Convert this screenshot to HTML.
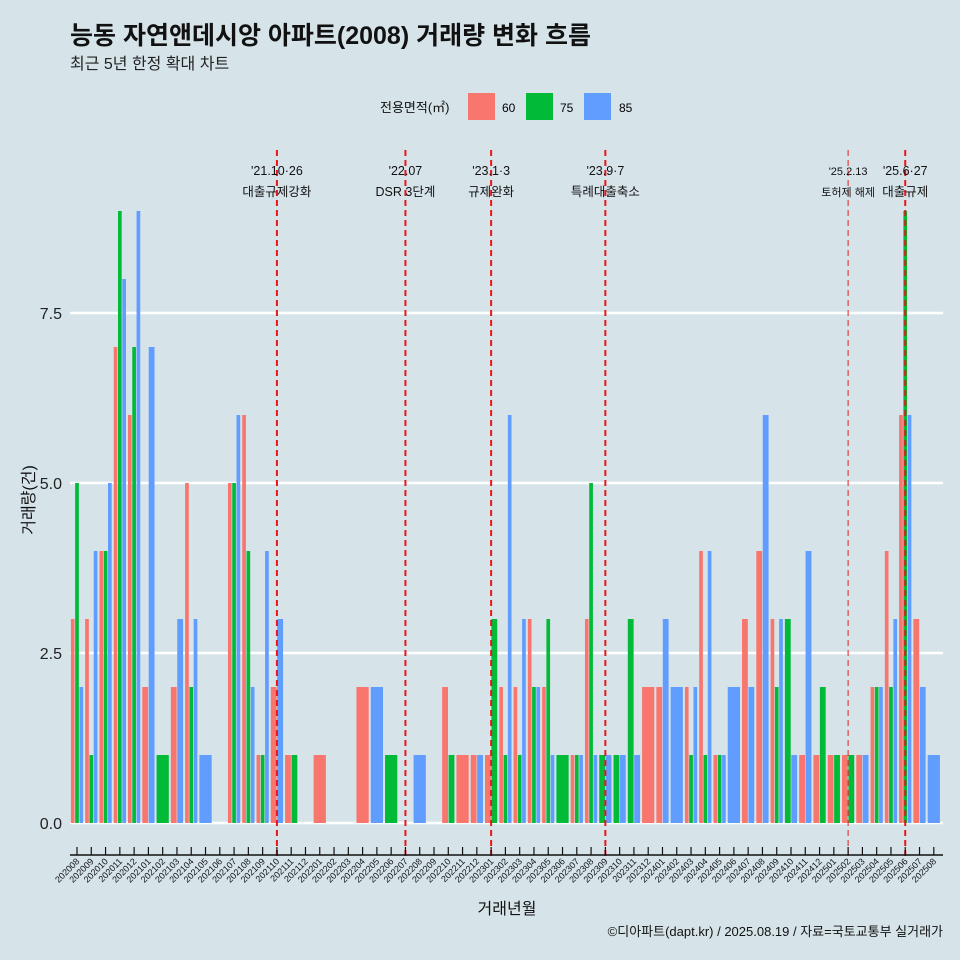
<!DOCTYPE html>
<html><head><meta charset="utf-8"><style>
body{margin:0;background:#d6e4ea;}
svg{display:block;font-family:"Liberation Sans","Noto Sans CJK KR",sans-serif;}
</style></head><body>
<svg id="chart" width="960" height="960" viewBox="0 0 960 960">
<rect width="960" height="960" fill="#d6e4ea"/>
<text x="70" y="44" font-size="25" font-weight="bold" fill="#111">능동 자연앤데시앙 아파트(2008) 거래량 변화 흐름</text>
<text x="70" y="69" font-size="16" fill="#222">최근 5년 한정 확대 차트</text>
<g>
<text x="380" y="112" font-size="13" fill="#111">전용면적(㎡)</text>
<rect x="468" y="93" width="27" height="27" fill="#F8766D"/>
<text x="502" y="112" font-size="12">60</text>
<rect x="526" y="93" width="27" height="27" fill="#00BA38"/>
<text x="560" y="112" font-size="12">75</text>
<rect x="584" y="93" width="27" height="27" fill="#619CFF"/>
<text x="619" y="112" font-size="12">85</text>
</g>
<g id="grid"></g><g id="bars"></g><g id="events"></g><g id="axes"></g>
<text transform="translate(34,500) rotate(-90)" text-anchor="middle" font-size="16" fill="#111">거래량(건)</text>
<text x="507" y="914" text-anchor="middle" font-size="16" fill="#111">거래년월</text>
<text x="943" y="936" text-anchor="end" font-size="13" fill="#111">©디아파트(dapt.kr) / 2025.08.19 / 자료=국토교통부 실거래가</text>
</svg>
<script>
const months=[];for(let y=2020;y<=2025;y++)for(let m=1;m<=12;m++){const k=y*100+m;if(k>=202008&&k<=202508)months.push(String(k));}
const s60=[3,3,4,7,6,2,0,2,5,0,0,5,6,1,2,1,0,1,0,0,2,0,0,0,0,0,2,1,1,1,2,2,3,2,0,1,3,0,0,0,2,2,0,2,4,1,0,3,4,3,0,1,1,1,1,1,2,4,6,3,0];
const s75=[5,1,4,9,7,0,1,0,2,0,0,5,4,1,0,1,0,0,0,0,0,0,1,0,0,0,1,0,0,3,1,1,2,3,1,1,5,1,1,3,0,0,0,1,1,1,0,0,0,2,3,0,2,1,1,0,2,2,9,0,0];
const s85=[2,4,5,8,9,7,0,3,3,1,0,6,2,4,3,0,0,0,0,0,0,2,0,0,1,0,0,0,1,0,6,3,2,1,0,1,1,1,1,1,0,3,2,2,4,1,2,2,6,3,1,4,0,0,0,1,2,3,6,2,1];
const yTicks=[0,2.5,5,7.5];
const yTickLabels=["0.0","2.5","5.0","7.5"];
const eventMonths=["202110","202207","202301","202309","202502","202506"];
const eventLine1=["'21.10·26","'22.07","'23.1·3","'23.9·7","'25.2.13","'25.6·27"];
const eventLine2=["대출규제강화","DSR 3단계","규제완화","특례대출축소","토허제 해제","대출규제"];
const NS="http://www.w3.org/2000/svg";
const X0=77,STEP=14.28,Y0=823,PY=68;
const xS=i=>X0+i*STEP, yS=v=>Y0-v*PY;
function mk(t,a,p){const e=document.createElementNS(NS,t);for(const k in a)e.setAttribute(k,a[k]);p.appendChild(e);return e;}
const grid=document.getElementById('grid'),bars=document.getElementById('bars'),ev=document.getElementById('events'),ax=document.getElementById('axes');
yTicks.forEach((v,i)=>{
 const l=mk('line',{x1:70,x2:943,y1:yS(v),y2:yS(v),stroke:'#fff','stroke-width':2.5},grid);
 
 
 const t=mk('text',{x:62,y:yS(v)+6,'text-anchor':'end','font-size':16,fill:'#222'},grid);t.textContent=yTickLabels[i];
 
 
});
const series=[[s60,'#F8766D','60'],[s75,'#00BA38','75'],[s85,'#619CFF','85']];
const GW=STEP*0.9;
months.forEach((m,i)=>{
 const present=series.filter(s=>s[0][i]>0);
 const w=GW/present.length;
 present.forEach((s,j)=>{
  const v=s[0][i];
  const r=mk('rect',{x:xS(i)-GW/2+j*w+0.3,y:yS(v),width:w-0.6,height:v*PY,fill:s[1]},bars);
  
  
 });
});
eventMonths.forEach((m,k)=>{
 const i=months.indexOf(m);const x=xS(i);const small=m==="202502";
 const l=mk('line',{x1:x,x2:x,y1:150,y2:860,stroke:'#e8161b','stroke-width':small?1.2:2,'stroke-dasharray':'6,4',opacity:small?0.8:1},ev);
 
 
 const fs=small?11:12.5;
 const t1=mk('text',{x:x,y:175,'text-anchor':'middle','font-size':fs,fill:'#111'},ev);t1.textContent=eventLine1[k];
 
 
 const t2=mk('text',{x:x,y:196,'text-anchor':'middle','font-size':fs,fill:'#111'},ev);t2.textContent=eventLine2[k];
 
 
});
const al=mk('line',{x1:70,x2:943,y1:855,y2:855,stroke:'#111','stroke-width':1.5},ax);


months.forEach((m,i)=>{
 const x=xS(i);
 const tk=mk('line',{x1:x,x2:x,y1:847,y2:855,stroke:'#111','stroke-width':1.2},ax);
 
 
 const t=mk('text',{transform:`translate(${x+3},${862}) rotate(-45)`,'text-anchor':'end','font-size':9,fill:'#111'},ax);t.textContent=m;
 
 
});
</script>
</body></html>
